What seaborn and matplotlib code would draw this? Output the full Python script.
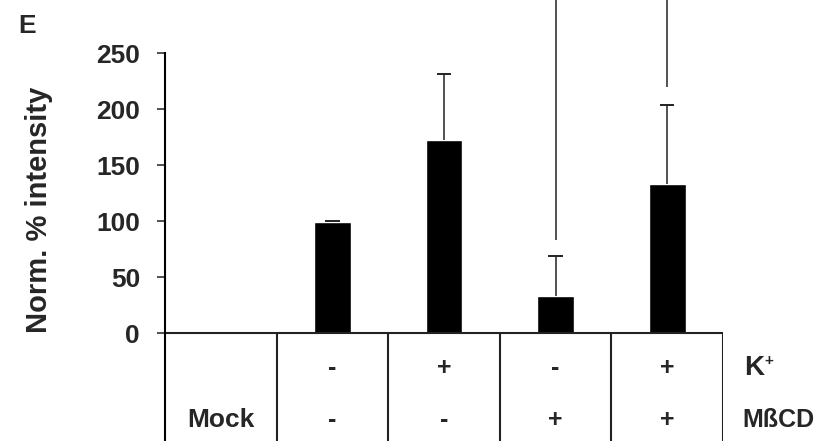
import numpy as np
import pandas as pd
import matplotlib
matplotlib.use("Agg")
import matplotlib.pyplot as plt
import seaborn as sns

# ---- data ----
conditions = ["K-/MbCD-", "K+/MbCD-", "K-/MbCD+", "K+/MbCD+"]
slot_order = ["Mock"] + conditions
means = [99.5, 172.5, 33.0, 133.0]
upper_err = [1.0, 59.5, 36.5, 70.5]
stray_line_low = [np.nan, np.nan, 83.0, 220.0]
k_row = ["", "-", "+", "-", "+"]
mbcd_row = ["Mock", "-", "-", "+", "+"]
yticks = [0, 50, 100, 150, 200, 250]

sns.set_style("white")
plt.rcParams["font.family"] = ["Liberation Sans", "DejaVu Sans"]
plt.rcParams["font.weight"] = "bold"

fig = plt.figure(figsize=(8.29, 4.41), dpi=100)
ax = fig.add_axes([165 / 829, 0.0, (723 - 165) / 829, 1.0])

df = pd.DataFrame({"cond": conditions, "val": means})
sns.barplot(data=df, x="cond", y="val", order=slot_order, color="black",
            width=0.33, errorbar=None, ax=ax, saturation=1)

pos = [slot_order.index(c) for c in conditions]
tops = [m + e for m, e in zip(means, upper_err)]
ax.vlines(pos, means, tops, color="#222222", linewidth=1.1)
ax.hlines(tops, [p - 0.065 for p in pos], [p + 0.065 for p in pos],
          color="#222222", linewidth=1.4)

ymin, ymax = -96.0, 297.6
ax.set_xlim(-0.5, len(slot_order) - 0.5)
ax.set_ylim(ymin, ymax)
for p, lo in zip(pos, stray_line_low):
    if not np.isnan(lo):
        ax.vlines(p, lo, ymax, color="#222222", linewidth=1.1)

# axes styling
for s in ["top", "right", "bottom"]:
    ax.spines[s].set_visible(False)
ax.spines["left"].set_bounds(ymin, 250)
ax.spines["left"].set_linewidth(1.5)
ax.spines["left"].set_color("black")
ax.set_yticks(yticks)
ax.set_yticklabels([str(t) for t in yticks], fontsize=19, fontweight="bold")
ax.tick_params(axis="y", left=True, length=6, width=1.2, pad=12, color="#333333")
ax.set_xticks([])
ax.set_xlabel("")
ax.set_ylabel("Norm. % intensity", fontsize=21, fontweight="bold")
ax.yaxis.set_label_coords(-0.2, 0.524)

# table lines below axis
ax.axhline(0, color="#222222", linewidth=1.5)
for b in np.arange(0.5, len(slot_order) - 0.5 + 1, 1.0):
    ax.vlines(b, ymin, 0, color="#222222", linewidth=1.5)

row_k_y, row_m_y = -31, -77
for i, t in enumerate(k_row):
    if t:
        ax.text(i, row_k_y, t, ha="center", va="center", fontsize=18, fontweight="bold")
for i, t in enumerate(mbcd_row):
    ax.text(i, row_m_y, t, ha="center", va="center",
            fontsize=19 if t == "Mock" else 18, fontweight="bold")

ax.text(4.69, row_k_y, "K", ha="left", va="center", fontsize=20, fontweight="bold")
ax.text(4.875, row_k_y + 6, "+", ha="left", va="center", fontsize=11, fontweight="bold")
ax.text(4.67, row_m_y, "MßCD", ha="left", va="center", fontsize=18, fontweight="bold",
        family=["Liberation Sans Narrow", "Liberation Sans"])

fig.text(0.022, 0.94, "E", ha="left", va="center", fontsize=19, fontweight="bold")

fig.savefig("out.png", dpi=100)
